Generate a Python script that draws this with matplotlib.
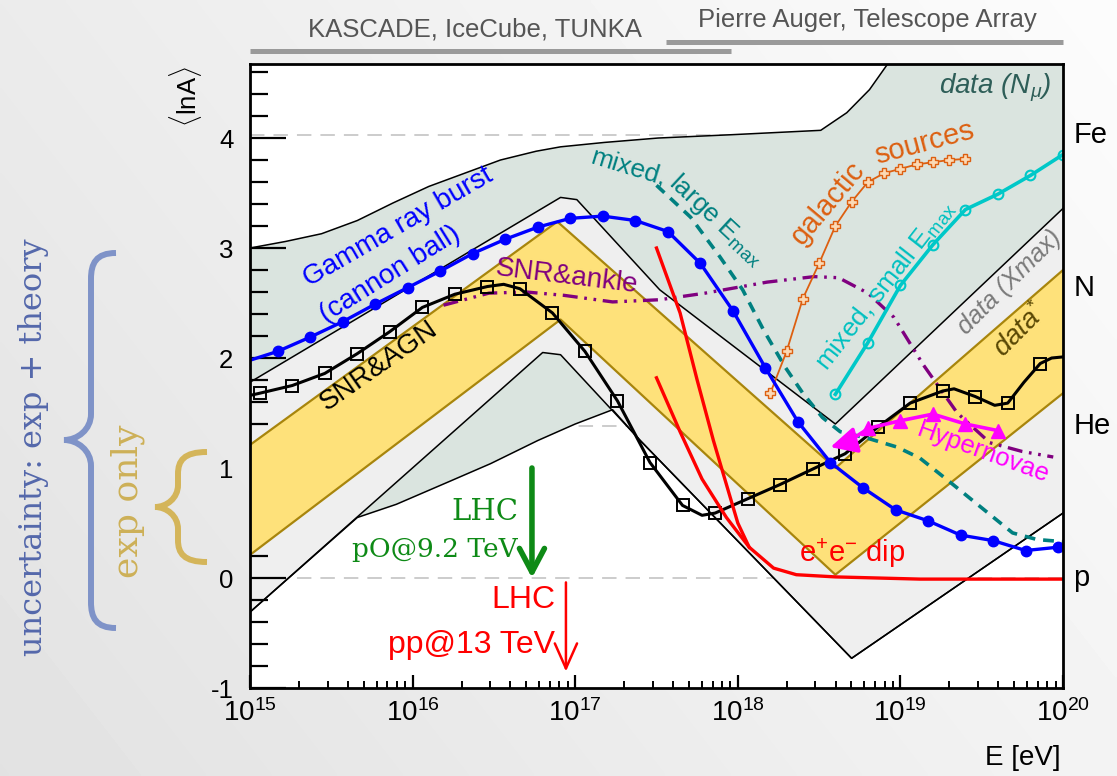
import numpy as np
import matplotlib
matplotlib.use("Agg")
import matplotlib.pyplot as plt
import matplotlib.transforms as mtransforms
from matplotlib.path import Path
from matplotlib.patches import PathPatch
from matplotlib.ticker import LogLocator, MultipleLocator, FuncFormatter, NullFormatter

plt.rcParams['font.family'] = ['Liberation Sans', 'DejaVu Sans']
plt.rcParams['mathtext.fontset'] = 'custom'
plt.rcParams['mathtext.rm'] = 'Liberation Sans'
plt.rcParams['mathtext.it'] = 'Liberation Sans:italic'
plt.rcParams['mathtext.bf'] = 'Liberation Sans:bold'
plt.rcParams['axes.unicode_minus'] = False

# ------------------------------------------------------------------
# Energies are log10(E/eV); composition is <lnA>
# ------------------------------------------------------------------
# band "data (N_mu)": exp + theory uncertainty
nmu_hi_logE = [15.0, 15.22, 15.44, 15.66, 15.88, 16.10, 16.32, 16.54, 16.76, 16.91,
               17.18, 17.51, 17.96, 18.51, 18.67, 18.81, 18.92, 19.0, 20.0]
nmu_hi_lnA = [3.0, 3.06, 3.13, 3.25, 3.41, 3.56, 3.68, 3.80, 3.88, 3.92,
              3.96, 4.0, 4.03, 4.07, 4.23, 4.44, 4.67, 4.85, 4.85]
nmu_lo_logE = [15.0, 15.66, 15.9, 16.23, 16.48, 16.77, 17.0, 17.23, 17.4, 18.7, 20.0]
nmu_lo_lnA = [-0.31, 0.55, 0.67, 0.88, 1.04, 1.25, 1.40, 1.53, 1.25, -0.73, 0.59]

# band "data (Xmax)"
xmax_hi_logE = [15.0, 16.91, 17.01, 17.52, 18.6, 20.0]
xmax_hi_lnA = [1.78, 3.46, 3.44, 2.62, 1.40, 3.36]
xmax_lo_logE = [15.0, 16.8, 16.91, 17.4, 18.7, 20.0]
xmax_lo_lnA = [-0.31, 2.05, 2.03, 1.25, -0.73, 0.59]

# band "data*": experimental uncertainty only
exp_hi_logE = [15.0, 16.89, 18.6, 20.0]
exp_hi_lnA = [1.21, 3.24, 1.0, 2.8]
exp_lo_logE = [15.0, 16.91, 18.6, 20.0]
exp_lo_lnA = [0.21, 2.35, 0.03, 1.68]

# Gamma ray burst (cannon ball)
grb_logE = [15.0, 15.17, 15.37, 15.57, 15.77, 15.97, 16.17, 16.37, 16.57, 16.77, 16.97,
            17.17, 17.37, 17.57, 17.77, 17.97, 18.17, 18.37, 18.57, 18.77, 18.97,
            19.17, 19.37, 19.57, 19.77, 19.97]
grb_lnA = [1.98, 2.06, 2.19, 2.33, 2.49, 2.64, 2.79, 2.95, 3.08, 3.19, 3.27,
           3.29, 3.25, 3.15, 2.86, 2.43, 1.91, 1.42, 1.05, 0.82, 0.62,
           0.52, 0.39, 0.34, 0.25, 0.28]

# SNR & AGN: model points and extra points on the connecting curve
snr_agn_logE = [15.06, 15.26, 15.46, 15.66, 15.86, 16.06, 16.26, 16.46, 16.66, 16.86,
                17.06, 17.26, 17.46, 17.66, 17.86, 18.06, 18.26, 18.46, 18.66, 18.86,
                19.06, 19.26, 19.46, 19.66, 19.86]
snr_agn_lnA = [1.68, 1.75, 1.86, 2.04, 2.24, 2.46, 2.58, 2.65, 2.63, 2.41,
               2.06, 1.61, 1.05, 0.66, 0.59, 0.72, 0.85, 0.99, 1.13, 1.37,
               1.59, 1.70, 1.65, 1.59, 1.95]
snr_agn_curve_logE = [15.0, 16.56, 17.78, 19.33, 19.58, 19.76, 19.93, 20.0]
snr_agn_curve_lnA = [1.66, 2.67, 0.57, 1.72, 1.57, 1.78, 2.00, 2.01]

# SNR & ankle
snr_ankle_logE = [16.19, 16.47, 16.70, 16.93, 17.23, 17.52, 17.80, 18.18, 18.47, 18.62,
                  18.80, 18.96, 19.14, 19.35, 19.55, 19.75, 19.94]
snr_ankle_lnA = [2.48, 2.59, 2.60, 2.57, 2.51, 2.53, 2.59, 2.69, 2.74, 2.73,
                 2.59, 2.37, 1.94, 1.50, 1.23, 1.15, 1.10]

# mixed composition, large E_max
mixed_large_logE = [17.5, 17.71, 17.89, 18.03, 18.16, 18.29, 18.40, 18.52, 18.63, 18.80,
                    18.98, 19.12, 19.29, 19.49, 19.69, 19.84, 20.0]
mixed_large_lnA = [3.57, 3.28, 2.92, 2.62, 2.25, 1.92, 1.68, 1.46, 1.33, 1.27,
                   1.19, 1.09, 0.89, 0.65, 0.41, 0.35, 0.33]

# mixed composition, small E_max
mixed_small_logE = [18.6, 18.8, 19.0, 19.2, 19.4, 19.6, 19.8, 20.0]
mixed_small_lnA = [1.67, 2.14, 2.66, 3.03, 3.35, 3.49, 3.66, 3.85]

# galactic sources
galactic_logE = [18.2, 18.3, 18.4, 18.5, 18.6, 18.7, 18.8, 18.9, 19.0, 19.1, 19.2, 19.3, 19.4]
galactic_lnA = [1.68, 2.06, 2.54, 2.86, 3.20, 3.42, 3.60, 3.68, 3.72, 3.76, 3.78, 3.80, 3.81]

# e+e- dip (two branches)
dip_a_logE = [17.5, 17.645, 17.75, 17.85, 18.0, 18.07, 18.22, 18.36, 18.6, 19.12, 20.0]
dip_a_lnA = [3.0, 2.41, 1.8, 1.25, 0.5, 0.28, 0.09, 0.03, 0.01, -0.01, -0.01]
dip_b_logE = [17.5, 17.645, 17.78, 17.93, 18.07]
dip_b_lnA = [1.82, 1.33, 0.90, 0.55, 0.28]

# Hypernovae (first point is the arrow tip)
hyper_logE = [18.57, 18.8, 19.0, 19.2, 19.4, 19.6]
hyper_lnA = [1.19, 1.36, 1.43, 1.49, 1.40, 1.34]

# LHC equivalent energies and arrow extents
lhc_po_logE = 16.734
lhc_po_lnA = [1.0, 0.0]
lhc_pp_logE = 16.943
lhc_pp_lnA = [-0.04, -0.85]

# reference nuclei
nuclei = ['p', 'He', 'N', 'Fe']
mass_numbers = [1, 4, 14, 56]

# ------------------------------------------------------------------
W, H = 1117, 776
fig = plt.figure(figsize=(W / 100, H / 100), dpi=100)

# soft grey background
bg = fig.add_axes([0, 0, 1, 1], zorder=-10)
gx, gy = np.meshgrid(np.linspace(0, 1, 300), np.linspace(0, 1, 200))
shade = 252 - 26 * ((1 - gx) * 0.65 + gy * 0.35)
bg.imshow(shade, extent=[0, 1, 0, 1], origin='upper', aspect='auto',
          cmap='gray', vmin=0, vmax=255, interpolation='bilinear')
bg.set_axis_off()

ax = fig.add_axes([250 / W, 1 - 688 / H, 813 / W, 624 / H])
ax.set_facecolor('white')
ax.set_xscale('log')
ax.set_xlim(1e15, 1e20)
ax.set_ylim(-1, 4.673)

E = lambda a: 10 ** np.asarray(a, dtype=float)
A = lambda a: np.asarray(a, dtype=float)

# reference lines
for m in mass_numbers:
    ax.axhline(np.log(m), color='#c8c8c8', lw=1.3, dashes=(8, 5), zorder=0.5)

# bands
green_fill = '#dae4df'
gray_fill = '#efefef'
yellow_fill = '#fee17a'
gold_edge = '#a8850c'

ax.fill(np.concatenate([E(nmu_hi_logE), E(nmu_lo_logE)[::-1]]),
        np.concatenate([A(nmu_hi_lnA), A(nmu_lo_lnA)[::-1]]),
        color=green_fill, lw=0, zorder=1)
ax.fill(np.concatenate([E(xmax_hi_logE), E(xmax_lo_logE)[::-1]]),
        np.concatenate([A(xmax_hi_lnA), A(xmax_lo_lnA)[::-1]]),
        color=gray_fill, lw=0, zorder=1.5)
ax.fill(np.concatenate([E(exp_hi_logE), E(exp_lo_logE)[::-1]]),
        np.concatenate([A(exp_hi_lnA), A(exp_lo_lnA)[::-1]]),
        color=yellow_fill, lw=0, zorder=2)
for xs, ys in [(nmu_hi_logE, nmu_hi_lnA), (nmu_lo_logE, nmu_lo_lnA),
               (xmax_hi_logE, xmax_hi_lnA), (xmax_lo_logE, xmax_lo_lnA)]:
    ax.plot(E(xs), A(ys), color='black', lw=1.1, zorder=2.5)
for xs, ys in [(exp_hi_logE, exp_hi_lnA), (exp_lo_logE, exp_lo_lnA)]:
    ax.plot(E(xs), A(ys), color=gold_edge, lw=1.6, zorder=2.6)

# models
ax.plot(E(mixed_large_logE), A(mixed_large_lnA), color='#008080', lw=2.6,
        dashes=(3.0, 2.2), zorder=4)
ax.plot(E(snr_ankle_logE), A(snr_ankle_lnA), color='#800080', lw=2.4,
        dashes=(4.5, 2.0, 0.8, 2.0, 0.8, 2.0), zorder=4)

order = np.argsort(snr_agn_logE + snr_agn_curve_logE)
curve_x = np.array(snr_agn_logE + snr_agn_curve_logE)[order]
curve_y = np.array(snr_agn_lnA + snr_agn_curve_lnA)[order]
ax.plot(E(curve_x), curve_y, color='black', lw=2.2, zorder=5)
ax.plot(E(snr_agn_logE), A(snr_agn_lnA), ls='none', marker='s', ms=8.5, mfc='none',
        mec='black', mew=1.4, zorder=5)

ax.plot(E(dip_a_logE), A(dip_a_lnA), color='#ff0000', lw=2.4, zorder=5)
ax.plot(E(dip_b_logE), A(dip_b_lnA), color='#ff0000', lw=2.4, zorder=5)

ax.plot(E(galactic_logE), A(galactic_lnA), color='#dd5f10', lw=1.3, marker='P', ms=7,
        mfc='#fbd9b5', mec='#dd5f10', mew=1.0, zorder=5)
ax.plot(E(mixed_small_logE), A(mixed_small_lnA), color='#00c8c8', lw=2.6, marker='o',
        ms=7, mfc='none', mec='#00c8c8', mew=1.5, zorder=5)

ax.plot(E(grb_logE), A(grb_lnA), color='#0000ff', lw=2.4, marker='o', ms=7.5,
        markevery=list(range(1, len(grb_logE))), zorder=6)

ax.plot(E(hyper_logE[1:]), A(hyper_lnA[1:]), color='#ff00ff', lw=2.6, marker='^', ms=10,
        zorder=6)
ax.annotate('', xy=(E(hyper_logE[0]), hyper_lnA[0]),
            xytext=(E(hyper_logE[1]), hyper_lnA[1]),
            arrowprops=dict(arrowstyle='-|>,head_length=0.8,head_width=0.4', lw=2.6,
                            color='#ff00ff', mutation_scale=20, shrinkA=0, shrinkB=0,
                            connectionstyle='arc3,rad=-0.1'), zorder=6)

# LHC arrows
ax.annotate('', xy=(E(lhc_po_logE), lhc_po_lnA[1]), xytext=(E(lhc_po_logE), lhc_po_lnA[0]),
            arrowprops=dict(arrowstyle='->,head_length=0.85,head_width=0.45', lw=4,
                            color='#0e8a16', mutation_scale=20, shrinkA=0, shrinkB=0),
            zorder=7)
ax.annotate('', xy=(E(lhc_pp_logE), lhc_pp_lnA[1]), xytext=(E(lhc_pp_logE), lhc_pp_lnA[0]),
            arrowprops=dict(arrowstyle='->,head_length=0.9,head_width=0.4', lw=1.8,
                            color='#ff0000', mutation_scale=20, shrinkA=0, shrinkB=0),
            zorder=7)

# ------------------------------------------------------------------
# labels inside the frame
def label(logE, lnA, s, rot=0, **kw):
    ax.text(10 ** logE, lnA, s, rotation=rot, rotation_mode='anchor',
            ha=kw.pop('ha', 'center'), va=kw.pop('va', 'center'), zorder=10, **kw)

label(15.91, 3.19, 'Gamma ray burst', 30, color='#0000ff', fontsize=20)
label(15.86, 2.76, '(cannon ball)', 32, color='#0000ff', fontsize=20)
label(15.79, 1.93, 'SNR&AGN', 35, color='black', fontsize=20)
label(16.95, 2.74, 'SNR&ankle', -7, color='#800080', fontsize=20)
label(17.33, 3.73, 'mixed,', -17, color='#008080', fontsize=19)
label(17.87, 3.26, r'large E$_{\rm max}$', -43, color='#008080', fontsize=19)
label(18.555, 3.41, 'galactic', 50, color='#dd5f10', fontsize=21)
label(19.15, 3.95, 'sources', 15, color='#dd5f10', fontsize=21)
label(18.905, 2.66, r'mixed, small E$_{\rm max}$', 52, color='#00c0c0', fontsize=19)
label(19.58, 4.46, r'data ($N_\mu$)', 0, color='#2e5e58', fontsize=20, style='italic')
label(19.67, 2.69, 'data (Xmax)', 45, color='#7a7a7a', fontsize=18, style='italic')
label(19.74, 2.25, 'data$^{*}$', 45, color='#5a4805', fontsize=20, style='italic')
label(19.51, 1.14, 'Hypernovae', -20, color='#ff00ff', fontsize=18.5)
label(18.70, 0.23, r'e$^{+}$e$^{-}$ dip', 0, color='#ff0000', fontsize=21)
label(16.648, 0.60, 'LHC', 0, color='#0e8a16', fontsize=21, family='DejaVu Serif', ha='right')
label(16.648, 0.26, 'pO@9.2 TeV', 0, color='#0e8a16', fontsize=19, family='DejaVu Serif',
      ha='right')
label(16.876, -0.20, 'LHC', 0, color='#ff0000', fontsize=23, ha='right')
label(16.876, -0.61, 'pp@13 TeV', 0, color='#ff0000', fontsize=23, ha='right')

# nuclei names on the right
side = mtransforms.blended_transform_factory(ax.transAxes, ax.transData)
for name, m in zip(nuclei, mass_numbers):
    ax.text(1.013, np.log(m), name, transform=side, ha='left', va='center', fontsize=21)

# axes styling
for sp in ax.spines.values():
    sp.set_linewidth(2)
    sp.set_zorder(12)
ax.xaxis.set_major_locator(LogLocator(base=10, numticks=10))
ax.xaxis.set_minor_locator(LogLocator(base=10, subs=np.arange(2, 10), numticks=100))
ax.xaxis.set_minor_formatter(NullFormatter())
ax.yaxis.set_major_locator(MultipleLocator(1))
ax.yaxis.set_minor_locator(MultipleLocator(0.2))
ax.yaxis.set_major_formatter(FuncFormatter(lambda v, p: f'{v:.0f}'))
ax.tick_params(axis='y', which='major', direction='in', length=26, width=1.6,
               labelsize=18.5, pad=12, right=False)
ax.tick_params(axis='y', which='minor', direction='in', length=13, width=1.6, right=False)
ax.tick_params(axis='x', which='major', direction='in', length=9.5, width=1.6,
               labelsize=20, pad=8, top=False)
ax.tick_params(axis='x', which='minor', direction='in', length=5, width=1.4, top=False)
for t in ax.get_xticklines() + ax.get_yticklines():
    t.set_zorder(12)

# ------------------------------------------------------------------
# annotations around the frame, placed in figure pixels (origin top-left)
pix = mtransforms.Affine2D().scale(1 / W, -1 / H).translate(0, 1) + fig.transFigure

fig.text(186, 97, r'$\langle$lnA$\rangle$', transform=pix, rotation=90, ha='center',
         va='center', fontsize=18.5)
fig.text(1061, 758, 'E [eV]', transform=pix, ha='right', va='center', fontsize=20)

fig.text(475, 30, 'KASCADE, IceCube, TUNKA', transform=pix, ha='center', va='center',
         fontsize=18.5, color='#555555')
fig.text(867, 20, 'Pierre Auger, Telescope Array', transform=pix, ha='center',
         va='center', fontsize=18.5, color='#555555')
fig.add_artist(plt.Line2D([250, 731], [51, 51], transform=pix, color='#9a9a9a', lw=3.6,
                          solid_capstyle='butt'))
fig.add_artist(plt.Line2D([666, 1063], [42, 42], transform=pix, color='#9a9a9a', lw=3.6,
                          solid_capstyle='butt'))


def brace(x_end, x_bar, x_tip, y_top, y_mid, y_bot, r, color):
    verts = [(x_end, y_top), (x_bar + 0.2 * (x_end - x_bar), y_top), (x_bar, y_top + 0.4 * r),
             (x_bar, y_top + r),
             (x_bar, y_mid - r),
             (x_bar, y_mid - 0.4 * r), (x_tip + 0.5 * (x_bar - x_tip), y_mid), (x_tip, y_mid),
             (x_tip + 0.5 * (x_bar - x_tip), y_mid), (x_bar, y_mid + 0.4 * r), (x_bar, y_mid + r),
             (x_bar, y_bot - r),
             (x_bar, y_bot - 0.4 * r), (x_bar + 0.2 * (x_end - x_bar), y_bot), (x_end, y_bot)]
    codes = [Path.MOVETO, Path.CURVE4, Path.CURVE4, Path.CURVE4, Path.LINETO,
             Path.CURVE4, Path.CURVE4, Path.CURVE4, Path.CURVE4, Path.CURVE4, Path.CURVE4,
             Path.LINETO, Path.CURVE4, Path.CURVE4, Path.CURVE4]
    fig.add_artist(PathPatch(Path(verts, codes), transform=pix, fill=False, ec=color,
                             lw=4.3, capstyle='butt'))


brace(116, 91, 64, 253, 440, 628, 26, '#7f93c8')
brace(207, 178, 155, 452, 507, 562, 22, '#d4b55a')

fig.text(34, 447, 'uncertainty: exp + theory', transform=pix, rotation=90, ha='center',
         va='center', fontsize=23, family='DejaVu Serif', color='#5468ab')
fig.text(128, 501, 'exp only', transform=pix, rotation=90, ha='center', va='center',
         fontsize=26, family='DejaVu Serif', color='#cdb057')

fig.savefig('out.png', dpi=100)
